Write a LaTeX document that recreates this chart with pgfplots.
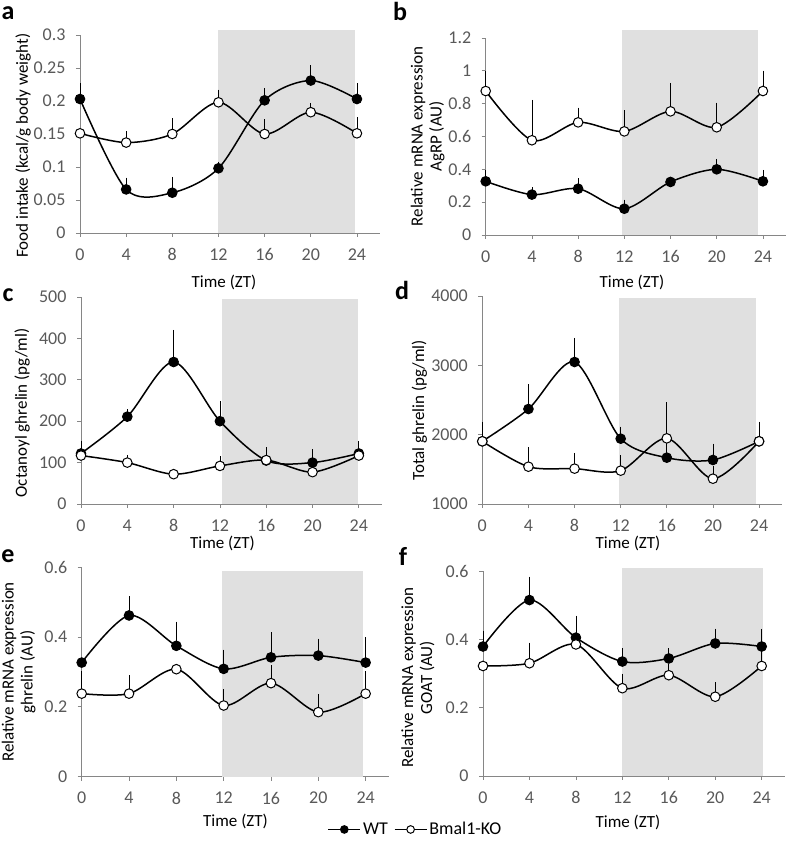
\documentclass[border=0pt]{standalone}
\usepackage{fontspec}
\setmainfont{Carlito}
\usepackage{pgfplots}
\pgfplotsset{compat=1.18}
\definecolor{shade}{HTML}{E0E0E0}
\definecolor{axgray}{HTML}{868686}
\definecolor{tickgray}{HTML}{595959}
\newcommand{\fs}{\fontsize{17}{19}\selectfont}
\newcommand{\tfs}{\fontsize{18}{20}\selectfont}
\pgfplotsset{
  panel/.style={
    scale only axis,
    axis x line=bottom, axis y line=left,
    axis line style={-, draw=axgray, line width=0.8pt},
    xmin=0, xmax=26, xtick={0,4,8,12,16,20,24},
    tick align=outside, major tick length=4pt,
    tick style={draw=axgray, line width=0.8pt},
    ticklabel style={font=\tfs, text=tickgray},
    xticklabel style={yshift=-8pt},
    yticklabel style={xshift=-7pt, /pgf/number format/fixed, /pgf/number format/precision=2},
    /pgf/number format/assume math mode=true,
    /pgf/number format/1000 sep={},
    scaled y ticks=false,
    clip=false,
    xlabel={Time (ZT)},
    label style={font=\fs},
    ylabel style={align=center},
    anchor=south west,
  },
  wt/.style={black, line width=1.5pt, smooth, mark=*, mark size=4.8pt,
    mark options={solid, fill=black, draw=black, line width=1pt},
    error bars/.cd, y dir=plus, y explicit,
    error bar style={line width=0.8pt, black},
    error mark options={black, mark size=4pt, line width=0.8pt}},
  ko/.style={black, line width=1.5pt, smooth, mark=*, mark size=4.8pt,
    mark options={solid, fill=white, draw=black, line width=1pt},
    error bars/.cd, y dir=plus, y explicit,
    error bar style={line width=0.8pt, black},
    error mark options={black, mark size=4pt, line width=0.8pt}},
}
\begin{document}
\begin{tikzpicture}
\path[use as bounding box] (0,0) rectangle (787pt,842pt);
% ---------------- a
\begin{axis}[panel, at={(80pt,609pt)}, width=300pt, height=198pt,
  ymin=0, ymax=0.3, ytick={0,0.05,0.1,0.15,0.2,0.25,0.3},
  ylabel={Food intake (kcal/g body weight)},
  ylabel style={at={([xshift=-57pt]axis description cs:0,0.44)}, anchor=center},
  xlabel style={at={([yshift=-49pt]axis description cs:0.48,0)}, anchor=center}]
\addplot[fill=shade, draw=none, forget plot] coordinates {(12,0) (12,0.307) (23.8,0.307) (23.8,0)} -- cycle;
\addplot[wt] coordinates {(0,0.203) +- (0,0.018) (4,0.066) +- (0,0.012) (8,0.061) +- (0,0.018) (12,0.098) +- (0,0.004) (16,0.201) +- (0,0.012) (20,0.231) +- (0,0.017) (24,0.203) +- (0,0.018)};
\addplot[ko] coordinates {(0,0.151) +- (0,0) (4,0.137) +- (0,0.011) (8,0.150) +- (0,0.018) (12,0.198) +- (0,0.013) (16,0.150) +- (0,0.016) (20,0.183) +- (0,0.008) (24,0.151) +- (0,0.018)};
\end{axis}
% ---------------- b
\begin{axis}[panel, at={(485.7pt,607pt)}, width=300.3pt, height=197pt,
  ymin=0, ymax=1.2, ytick={0,0.2,0.4,0.6,0.8,1,1.2},
  ylabel={Relative mRNA expression\\AgRP (AU)},
  ylabel style={at={([xshift=-58pt]axis description cs:0,0.5)}, anchor=center},
  xlabel style={at={([yshift=-47pt]axis description cs:0.487,0)}, anchor=center}]
\addplot[fill=shade, draw=none, forget plot] coordinates {(11.8,0) (11.8,1.25) (23.6,1.25) (23.6,0)} -- cycle;
\addplot[wt] coordinates {(0,0.327) +- (0,0.045) (4,0.246) +- (0,0.02) (8,0.282) +- (0,0.039) (12,0.160) +- (0,0.031) (16,0.323) +- (0,0) (20,0.400) +- (0,0.039) (24,0.327) +- (0,0.045)};
\addplot[ko] coordinates {(0,0.877) +- (0,0.100) (4,0.577) +- (0,0.221) (8,0.686) +- (0,0.065) (12,0.631) +- (0,0.104) (16,0.753) +- (0,0.149) (20,0.656) +- (0,0.126) (24,0.877) +- (0,0.100)};
\end{axis}
% ---------------- c
\begin{axis}[panel, at={(81pt,338pt)}, width=301pt, height=207pt,
  ymin=0, ymax=500, ytick={0,100,200,300,400,500},
  ylabel={Octanoyl ghrelin (pg/ml)},
  ylabel style={at={([xshift=-59pt]axis description cs:0,0.44)}, anchor=center},
  xlabel style={at={([yshift=-39pt]axis description cs:0.47,0)}, anchor=center}]
\addplot[fill=shade, draw=none, forget plot] coordinates {(12.15,0) (12.15,496) (23.95,496) (23.95,0)} -- cycle;
\addplot[wt] coordinates {(0,122) +- (0,21) (4,211) +- (0,8) (8,343) +- (0,68) (12,200) +- (0,38) (16,105) +- (0,22) (20,100) +- (0,23) (24,122) +- (0,21)};
\addplot[ko] coordinates {(0,117) +- (0,0) (4,100) +- (0,9) (8,72) +- (0,0) (12,92) +- (0,14) (16,106) +- (0,21) (20,77) +- (0,0) (24,117) +- (0,22)};
\end{axis}
% ---------------- d
\begin{axis}[panel, at={(482.3pt,338pt)}, width=299.8pt, height=208pt,
  ymin=1000, ymax=4000, ytick={1000,2000,3000,4000},
  ylabel={Total ghrelin (pg/ml)},
  ylabel style={at={([xshift=-63pt]axis description cs:0,0.45)}, anchor=center},
  xlabel style={at={([yshift=-39pt]axis description cs:0.486,0)}, anchor=center}]
\addplot[fill=shade, draw=none, forget plot] coordinates {(11.86,1000) (11.86,3970) (23.7,3970) (23.7,1000)} -- cycle;
\addplot[wt] coordinates {(0,1904) +- (0,221) (4,2370) +- (0,298) (8,3048) +- (0,289) (12,1942) +- (0,116) (16,1668) +- (0,221) (20,1635) +- (0,177) (24,1904) +- (0,221)};
\addplot[ko] coordinates {(0,1904) +- (0,0) (4,1538) +- (0,226) (8,1510) +- (0,168) (12,1481) +- (0,163) (16,1947) +- (0,466) (20,1365) +- (0,125) (24,1904) +- (0,221)};
\end{axis}
% ---------------- e
\begin{axis}[panel, at={(81.7pt,65.3pt)}, width=307.6pt, height=209.4pt,
  ymin=0, ymax=0.6, ytick={0,0.2,0.4,0.6},
  ylabel={Relative mRNA expression\\ghrelin (AU)},
  ylabel style={at={([xshift=-63pt]axis description cs:0,0.5)}, anchor=center},
  xlabel style={at={([yshift=-45pt]axis description cs:0.5,0)}, anchor=center},
  legend style={at={([xshift=0pt]axis description cs:1.085,-0.252)}, anchor=center,
    draw=none, fill=none, legend columns=2, font=\fontsize{18}{20}\selectfont,
    inner sep=1pt,
    /tikz/every even column/.append style={column sep=4pt}},
  legend image code/.code={\draw[mark repeat=2, mark phase=2, mark size=3.8pt, #1] plot coordinates {(0pt,0pt) (16pt,0pt) (32pt,0pt)};}]
\addplot[fill=shade, draw=none, forget plot] coordinates {(11.9,0) (11.9,0.59) (23.8,0.59) (23.8,0)} -- cycle;
\addplot[wt] coordinates {(0,0.327) +- (0,0) (4,0.462) +- (0,0.044) (8,0.375) +- (0,0.058) (12,0.309) +- (0,0.044) (16,0.342) +- (0,0.061) (20,0.347) +- (0,0.037) (24,0.327) +- (0,0.061)};
\addlegendentry{WT}
\addplot[ko] coordinates {(0,0.238) +- (0,0.053) (4,0.238) +- (0,0.041) (8,0.308) +- (0,0) (12,0.204) +- (0,0.035) (16,0.268) +- (0,0.040) (20,0.185) +- (0,0.041) (24,0.238) +- (0,0.052)};
\addlegendentry{Bmal1-KO}
\end{axis}
% ---------------- f
\begin{axis}[panel, at={(483pt,66pt)}, width=301.9pt, height=205pt,
  ymin=0, ymax=0.6, ytick={0,0.2,0.4,0.6},
  ylabel={Relative mRNA expression\\GOAT (AU)},
  ylabel style={at={([xshift=-65pt]axis description cs:0,0.48)}, anchor=center},
  xlabel style={at={([yshift=-46pt]axis description cs:0.48,0)}, anchor=center}]
\addplot[fill=shade, draw=none, forget plot] coordinates {(11.94,0) (11.94,0.61) (24.1,0.61) (24.1,0)} -- cycle;
\addplot[wt] coordinates {(0,0.379) +- (0,0.035) (4,0.515) +- (0,0.057) (8,0.405) +- (0,0.052) (12,0.335) +- (0,0.028) (16,0.344) +- (0,0.018) (20,0.388) +- (0,0.032) (24,0.379) +- (0,0.040)};
\addplot[ko] coordinates {(0,0.322) +- (0,0) (4,0.330) +- (0,0.049) (8,0.385) +- (0,0.072) (12,0.257) +- (0,0.031) (16,0.295) +- (0,0.02) (20,0.232) +- (0,0.031) (24,0.322) +- (0,0.049)};
\end{axis}
% panel letters
\begin{scope}[every node/.style={font=\fontsize{26}{30}\selectfont\bfseries}]
\node at (8pt,829pt) {a};
\node at (400pt,831pt) {b};
\node at (8pt,547pt) {c};
\node at (402pt,552pt) {d};
\node at (8pt,286pt) {e};
\node at (403pt,286pt) {f};
\end{scope}
\end{tikzpicture}
\end{document}
